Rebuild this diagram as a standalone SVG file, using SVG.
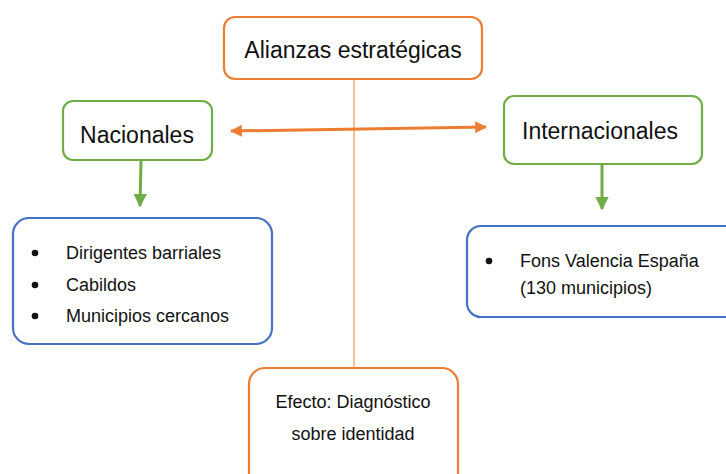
<svg xmlns="http://www.w3.org/2000/svg" width="726" height="474" viewBox="0 0 726 474">
<defs>
<style>
.box{fill:#fff;stroke-width:2.2}
.or{stroke:#ED7D31}
.gr{stroke:#70AD47}
.bl{stroke:#4472C4}
text{font-family:"Liberation Sans",Arial,sans-serif;fill:#111}
.big{font-size:23px}
.mid{font-size:18px}
</style>
<marker id="ah-or" viewBox="0 0 10 10" refX="9" refY="5" markerWidth="4" markerHeight="4" orient="auto-start-reverse" markerUnits="strokeWidth">
<path d="M0,0 L10,5 L0,10 Z" fill="#ED7D31"/>
</marker>
<marker id="ah-gr" viewBox="0 0 10 10" refX="9" refY="5" markerWidth="4.5" markerHeight="4.5" orient="auto" markerUnits="strokeWidth">
<path d="M0,0 L10,5 L0,10 Z" fill="#70AD47"/>
</marker>
</defs>
<rect width="726" height="474" fill="#fff"/>
<g id="connectors">
<line x1="354" y1="79" x2="354" y2="368" stroke="#F08A45" stroke-width="1.1"/>
<line x1="231" y1="131" x2="486" y2="127" stroke="#ED7D31" stroke-width="3" marker-start="url(#ah-or)" marker-end="url(#ah-or)"/>
<line x1="141" y1="161" x2="140" y2="206" stroke="#70AD47" stroke-width="3" marker-end="url(#ah-gr)"/>
<line x1="602" y1="165" x2="602" y2="209" stroke="#70AD47" stroke-width="3" marker-end="url(#ah-gr)"/>
</g>
<g id="alianzas">
<rect class="box or" x="224" y="17" width="258" height="62" rx="11"/>
<text class="big" x="353" y="58" text-anchor="middle" font-size="22.5">Alianzas estratégicas</text>
</g>
<g id="nacionales">
<rect class="box gr" x="63" y="101" width="149" height="59" rx="10"/>
<text class="big" x="137" y="143" text-anchor="middle">Nacionales</text>
</g>
<g id="internacionales">
<rect class="box gr" x="504" y="96" width="198" height="68" rx="10"/>
<text class="big" x="600" y="139" text-anchor="middle">Internacionales</text>
</g>
<g id="lista-nacional">
<rect class="box bl" x="13" y="218" width="259" height="126" rx="16"/>
<circle cx="35" cy="253" r="3.3" fill="#111"/>
<circle cx="35" cy="285" r="3.3" fill="#111"/>
<circle cx="35" cy="316" r="3.3" fill="#111"/>
<text class="mid" x="66" y="259">Dirigentes barriales</text>
<text class="mid" x="66" y="291">Cabildos</text>
<text class="mid" x="66" y="322">Municipios cercanos</text>
</g>
<g id="lista-internacional">
<rect class="box bl" x="467" y="226" width="280" height="91" rx="14"/>
<circle cx="489" cy="261" r="3.3" fill="#111"/>
<text class="mid" x="520" y="267">Fons Valencia España</text>
<text class="mid" x="520" y="294">(130 municipios)</text>
</g>
<g id="efecto">
<rect class="box or" x="249" y="368" width="209" height="130" rx="16"/>
<text class="mid" x="353" y="408" text-anchor="middle" font-size="18.5">Efecto: Diagnóstico</text>
<text class="mid" x="353" y="440" text-anchor="middle" font-size="18.5">sobre identidad</text>
</g>
</svg>
